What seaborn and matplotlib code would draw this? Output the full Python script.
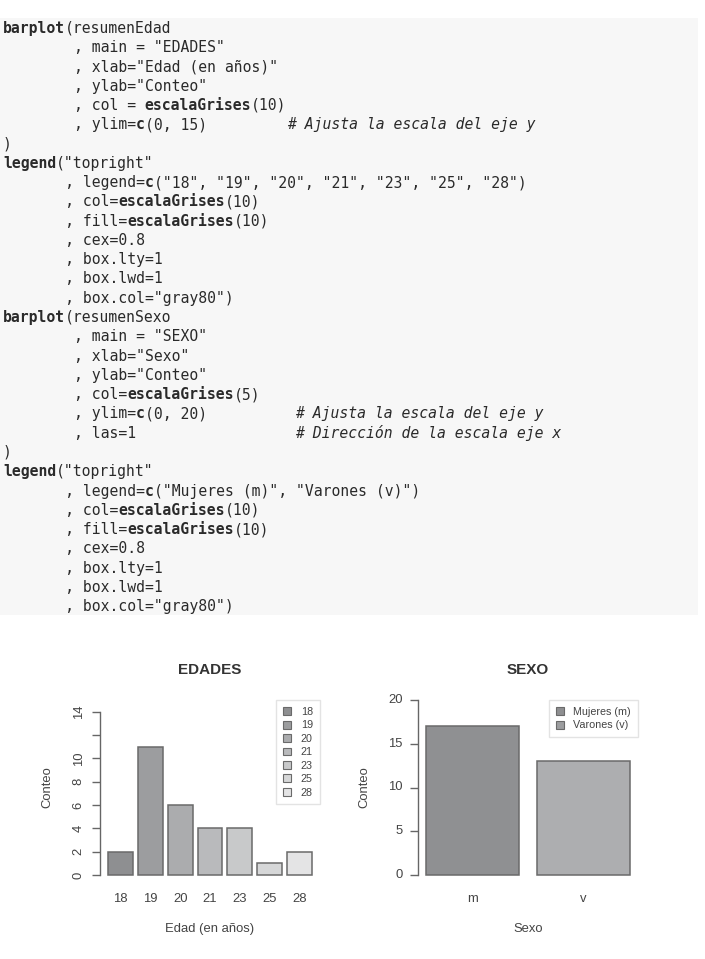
import re
import matplotlib
matplotlib.use("Agg")
import matplotlib.pyplot as plt
from matplotlib.patches import Patch
import seaborn as sns

# datos
edades = ["18", "19", "20", "21", "23", "25", "28"]
conteo_edad = [2, 11, 6, 4, 4, 1, 2]
sexo = ["m", "v"]
conteo_sexo = [17, 13]
leyenda_sexo = ["Mujeres (m)", "Varones (v)"]
grises10 = ["#8e8f91", "#9c9d9f", "#abacae", "#b9babc", "#c8c9ca", "#d6d7d8", "#e4e4e5"]
grises5 = ["#8f9092", "#adaeb0"]

codigo = [
    'barplot(resumenEdad',
    '        , main = "EDADES"',
    '        , xlab="Edad (en años)"',
    '        , ylab="Conteo"',
    '        , col = escalaGrises(10)',
    '        , ylim=c(0, 15)         # Ajusta la escala del eje y',
    ')',
    'legend("topright"',
    '       , legend=c("18", "19", "20", "21", "23", "25", "28")',
    '       , col=escalaGrises(10)',
    '       , fill=escalaGrises(10)',
    '       , cex=0.8',
    '       , box.lty=1',
    '       , box.lwd=1',
    '       , box.col="gray80")',
    'barplot(resumenSexo',
    '        , main = "SEXO"',
    '        , xlab="Sexo"',
    '        , ylab="Conteo"',
    '        , col=escalaGrises(5)',
    '        , ylim=c(0, 20)          # Ajusta la escala del eje y',
    '        , las=1                  # Dirección de la escala eje x',
    ')',
    'legend("topright"',
    '       , legend=c("Mujeres (m)", "Varones (v)")',
    '       , col=escalaGrises(10)',
    '       , fill=escalaGrises(10)',
    '       , cex=0.8',
    '       , box.lty=1',
    '       , box.lwd=1',
    '       , box.col="gray80")',
]

sns.set_style("white")
plt.rcParams["font.family"] = ["Liberation Sans", "DejaVu Sans"]

W, H = 705, 959
fig = plt.figure(figsize=(W / 100, H / 100), dpi=100)

# ---- bloque de codigo ----
code_top, code_bot = 18, 615
axc = fig.add_axes([0, 1 - code_bot / H, 698 / W, (code_bot - code_top) / H])
axc.set_facecolor("#f7f7f7")
axc.set_xlim(0, 698)
axc.set_ylim(code_bot - code_top, 0)
axc.set_xticks([])
axc.set_yticks([])
for s in axc.spines.values():
    s.set_visible(False)

fs_code = 10.6
cw = 0.602 * fs_code * 100 / 72
mono = "DejaVu Sans Mono"
txt_col = "#2a2a2a"
for i, line in enumerate(codigo):
    y = 10.3 + i * 19.28
    code, com = line, ""
    if "#" in line:
        k = line.index("#")
        code, com = line[:k], line[k:]
    pos = 0
    for m in re.finditer(r"[A-Za-z_.]+(?=\()", code):
        if m.start() > pos:
            axc.text(3 + pos * cw, y, code[pos:m.start()], family=mono, fontsize=fs_code,
                     color=txt_col, va="center")
        axc.text(3 + m.start() * cw, y, m.group(), family=mono, fontsize=fs_code,
                 color=txt_col, va="center", fontweight="bold")
        pos = m.end()
    if pos < len(code):
        axc.text(3 + pos * cw, y, code[pos:], family=mono, fontsize=fs_code,
                 color=txt_col, va="center")
    if com:
        axc.text(3 + len(code) * cw, y, com, family=mono, fontsize=fs_code,
                 color=txt_col, va="center", style="italic")

# ---- graficos ----
gris_txt = "#444444"
gris_eje = "#666666"
borde = "#6a6a6a"
fs = 9.4


def estilo(ax, n, ylim, yticks, ytlabels, rot):
    L = n - 1 + 1 / 1.2
    pad = 0.04 * L
    ax.set_xlim(-0.5 / 1.2 - pad, n - 1 + 0.5 / 1.2 + pad)
    ax.set_ylim(-0.04 * ylim, ylim * 1.04)
    for s in ["top", "right", "bottom"]:
        ax.spines[s].set_visible(False)
    ax.spines["left"].set_color(gris_eje)
    ax.spines["left"].set_linewidth(1)
    ax.spines["left"].set_bounds(yticks[0], yticks[-1])
    ax.set_yticks(yticks)
    ax.set_yticklabels(ytlabels, rotation=rot, va="center", fontsize=fs, color=gris_txt)
    ax.tick_params(axis="y", length=6, width=1, color=gris_eje, pad=5, left=True)
    ax.tick_params(axis="x", length=0, pad=8, labelsize=fs, labelcolor=gris_txt)
    ax.set_facecolor("white")


def leyenda(ax, colores, etiquetas):
    hs = [Patch(facecolor=c, edgecolor=borde, linewidth=0.8) for c in colores]
    lg = ax.legend(hs, etiquetas, loc="upper right", bbox_to_anchor=(1, 0.963), borderaxespad=0,
                   fontsize=fs * 0.82, handlelength=0.75, handleheight=0.75, handletextpad=0.9,
                   labelspacing=0.32, borderpad=0.65, fancybox=False, framealpha=1)
    lg.get_frame().set_edgecolor("#e3e3e3")
    for t in lg.get_texts():
        t.set_color(gris_txt)


ax1 = fig.add_axes([100 / W, 1 - 882 / H, 220 / W, 189 / H])
sns.barplot(x=edades, y=conteo_edad, hue=edades, palette=grises10, legend=False,
            width=1 / 1.2, saturation=1, edgecolor=borde, linewidth=1.1, ax=ax1)
ticks1 = [0, 2, 4, 6, 8, 10, 12, 14]
estilo(ax1, len(edades), 15, ticks1, [str(t) if t != 12 else "" for t in ticks1], 90)
ax1.set_title("EDADES", fontweight="bold", fontsize=11, color="#333333", pad=14)
ax1.set_xlabel("Edad (en años)", fontsize=fs, color=gris_txt, labelpad=13)
ax1.set_ylabel("Conteo", fontsize=fs, color=gris_txt, labelpad=14)
leyenda(ax1, grises10, edades)

ax2 = fig.add_axes([418 / W, 1 - 882 / H, 220 / W, 189 / H])
sns.barplot(x=sexo, y=conteo_sexo, hue=sexo, palette=grises5, legend=False,
            width=1 / 1.2, saturation=1, edgecolor=borde, linewidth=1.1, ax=ax2)
ticks2 = [0, 5, 10, 15, 20]
estilo(ax2, len(sexo), 20, ticks2, [str(t) for t in ticks2], 0)
ax2.set_title("SEXO", fontweight="bold", fontsize=11, color="#333333", pad=14)
ax2.set_xlabel("Sexo", fontsize=fs, color=gris_txt, labelpad=13)
ax2.set_ylabel("Conteo", fontsize=fs, color=gris_txt, labelpad=13)
leyenda(ax2, grises10[:2], leyenda_sexo)

fig.savefig("out.png", dpi=100)
